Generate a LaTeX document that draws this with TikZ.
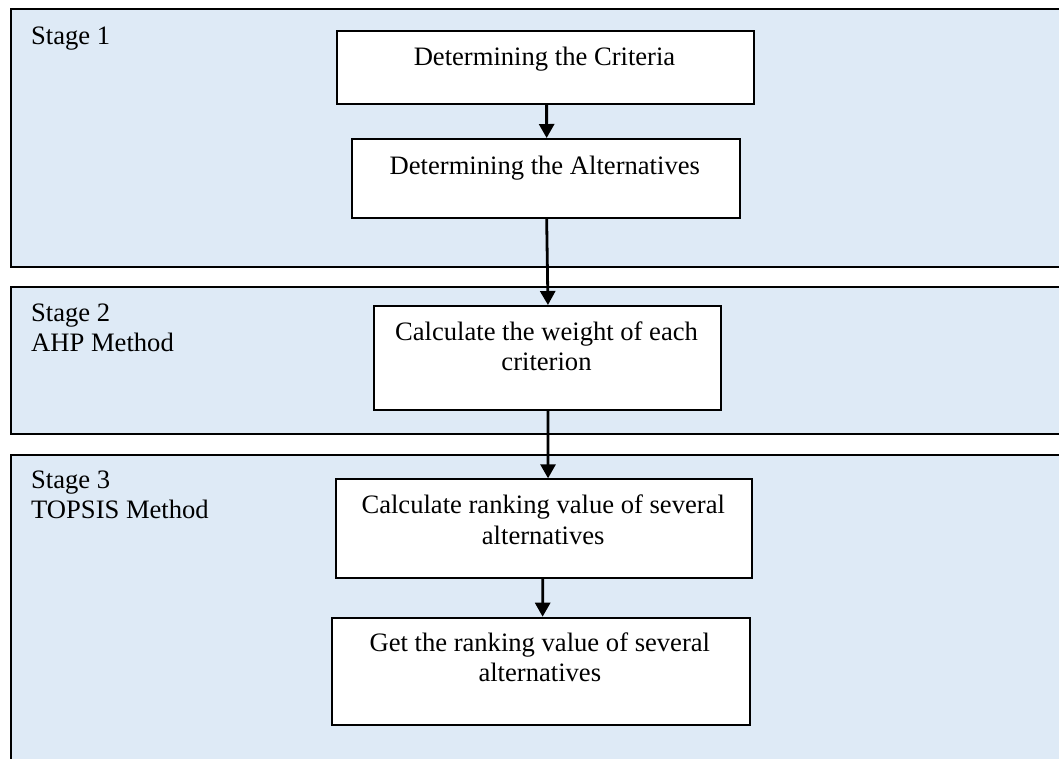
\documentclass[tikz,border=0pt]{standalone}
\usepackage{fontspec}
\setmainfont{Liberation Serif}
\usetikzlibrary{arrows.meta}
\definecolor{panelblue}{HTML}{DEEAF6}
\begin{document}
\begin{tikzpicture}[x=1pt,y=-1pt,
  panel/.style={draw=black, line width=2.4pt, fill=panelblue, inner sep=0pt, anchor=north west},
  stepbox/.style={draw=black, line width=1.8pt, fill=white, inner sep=0pt, anchor=north west},
  lbl/.style={font=\fontsize{26.6pt}{30pt}\selectfont, inner sep=0pt, anchor=base west},
  boxtxt/.style={font=\fontsize{26.6pt}{30pt}\selectfont, inner sep=0pt, anchor=base, align=center},
  arr/.style={line width=2.8pt, -{Triangle[width=15pt,length=14pt]}}
]
\clip (0,0) rectangle (1059,758);
\fill[white] (0,0) rectangle (1059,758);
% panels
\node[panel, minimum width=1070pt, minimum height=258pt] (p1) at (9.5,8) {};
\node[panel, minimum width=1070pt, minimum height=147pt] (p2) at (9.5,286) {};
\node[panel, minimum width=1070pt, minimum height=330pt] (p3) at (9.5,454) {};
% stage labels
\node[lbl] (s1) at (31,44) {Stage 1};
\node[lbl] (s2) at (31,321) {Stage 2};
\node[lbl] (s2m) at (31,351) {AHP Method};
\node[lbl] (s3) at (31,488) {Stage 3};
\node[lbl] (s3m) at (31,518) {TOPSIS Method};
% boxes
\node[stepbox, minimum width=417.6pt, minimum height=73.6pt] (b1) at (335.7,29.7) {};
\node[stepbox, minimum width=388.3pt, minimum height=78.7pt] (b2) at (350.7,138) {};
\node[stepbox, minimum width=347.3pt, minimum height=104pt] (b3) at (372.7,305) {};
\node[stepbox, minimum width=415.7pt, minimum height=98.7pt] (b4) at (335.3,478.3) {};
\node[stepbox, minimum width=418pt, minimum height=107.3pt] (b5) at (331,616.7) {};
% box texts
\node[boxtxt] (t1) at (544.5,65) {Determining the Criteria};
\node[boxtxt] (t2) at (544.8,174) {Determining the Alternatives};
\node[boxtxt] (t3a) at (546.5,340) {Calculate the weight of each};
\node[boxtxt] (t3b) at (546.5,370) {criterion};
\node[boxtxt] (t4a) at (543.2,513.3) {Calculate ranking value of several};
\node[boxtxt] (t4b) at (543.2,544.3) {alternatives};
\node[boxtxt] (t5a) at (539.8,651.7) {Get the ranking value of several};
\node[boxtxt] (t5b) at (539.8,681.7) {alternatives};
% arrows
\draw[arr] ([xshift=1.2pt]b1.south) -- ([xshift=0.9pt]b2.north);
\draw[arr] ([xshift=0.9pt]b2.south) -- ([xshift=0.7pt]b3.north);
\draw[arr] ([xshift=0.7pt]b3.south) -- ([xshift=4pt]b4.north);
\draw[arr] ([xshift=-1.3pt]b4.south) -- ([xshift=1.7pt]b5.north);
\end{tikzpicture}
\end{document}
